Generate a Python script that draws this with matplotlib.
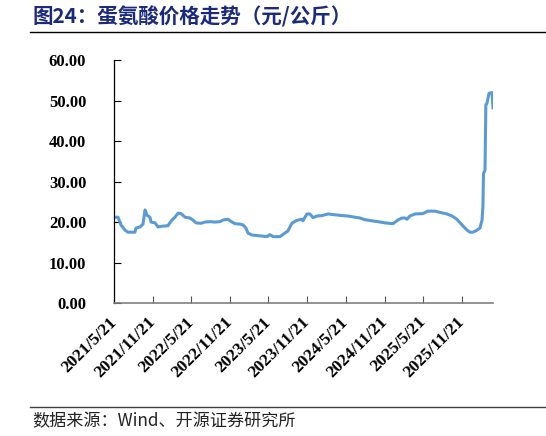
import pandas as pd
import matplotlib.pyplot as plt
from matplotlib.lines import Line2D

# ------------------------------------------------------------------------------------- #
# data (元/公斤)
dates = ['2021-05-21', '2021-06-09', '2021-06-23', '2021-07-12', '2021-07-26', '2021-08-28',
         '2021-09-02', '2021-09-21', '2021-10-05', '2021-10-15', '2021-10-24', '2021-11-07',
         '2021-11-12', '2021-12-01', '2021-12-15', '2022-01-08', '2022-01-31', '2022-02-14',
         '2022-03-05', '2022-03-20', '2022-04-03', '2022-04-22', '2022-05-15', '2022-05-29',
         '2022-06-13', '2022-07-06', '2022-07-25', '2022-08-18', '2022-09-10', '2022-10-04',
         '2022-10-18', '2022-11-11', '2022-11-30', '2022-12-14', '2023-01-07', '2023-01-21',
         '2023-02-04', '2023-02-13', '2023-03-04', '2023-04-11', '2023-05-14', '2023-05-28',
         '2023-06-12', '2023-07-15', '2023-08-07', '2023-08-21', '2023-09-09', '2023-09-24',
         '2023-10-08', '2023-10-27', '2023-10-31', '2023-11-19', '2023-12-03', '2023-12-18',
         '2024-01-06', '2024-01-29', '2024-02-27', '2024-03-31', '2024-05-03', '2024-05-31',
         '2024-07-03', '2024-07-27', '2024-08-19', '2024-09-22', '2024-10-20', '2024-11-22',
         '2024-12-30', '2025-01-22', '2025-02-10', '2025-02-25', '2025-03-06', '2025-03-20',
         '2025-04-13', '2025-05-21', '2025-06-13', '2025-07-16', '2025-08-09', '2025-09-11',
         '2025-10-05', '2025-10-28', '2025-11-21', '2025-12-15', '2025-12-29', '2026-01-12',
         '2026-01-31', '2026-02-14', '2026-02-24', '2026-02-28', '2026-03-03', '2026-03-10',
         '2026-03-14', '2026-03-19', '2026-03-29', '2026-04-12', '2026-04-17']
price = [21.2, 21.2, 19.3, 18.0, 17.5, 17.5,
         18.5, 18.8, 19.5, 23.0, 21.7, 21.2,
         20.0, 19.8, 18.8, 19.0, 19.1, 20.2,
         21.2, 22.2, 22.1, 21.2, 21.0, 20.5,
         19.8, 19.7, 20.0, 20.1, 20.0, 20.1,
         20.5, 20.7, 20.0, 19.6, 19.5, 19.3,
         18.5, 17.3, 16.8, 16.6, 16.4, 16.9,
         16.4, 16.4, 17.3, 17.8, 19.7, 20.2,
         20.5, 20.7, 20.3, 22.0, 22.0, 21.1,
         21.5, 21.6, 22.0, 21.8, 21.6, 21.5,
         21.2, 21.0, 20.6, 20.3, 20.1, 19.8,
         19.6, 20.5, 21.0, 21.0, 20.7, 21.5,
         22.0, 22.1, 22.7, 22.7, 22.4, 22.0,
         21.5, 20.7, 19.3, 18.0, 17.5, 17.5,
         18.0, 18.5, 20.5, 23.7, 32.0, 32.8,
         49.0, 49.3, 51.8, 52.0, 48.2]

tick_dates = ['2021-05-21', '2021-11-21', '2022-05-21', '2022-11-21', '2023-05-21',
              '2023-11-21', '2024-05-21', '2024-11-21', '2025-05-21', '2025-11-21']
y_ticks = [0, 10, 20, 30, 40, 50, 60]

title = '图24：蛋氨酸价格走势（元/公斤）'
source = '数据来源：Wind、开源证券研究所'

# ------------------------------------------------------------------------------------- #
serif = ['Liberation Serif', 'DejaVu Serif']
cjk = ['Noto Sans CJK SC', 'DejaVu Sans']

fig = plt.figure(figsize=(5.46, 4.36), dpi=100)
ax = fig.add_axes([0.2088, 0.305, 0.6942, 0.557])

x = pd.to_datetime(dates)
ax.plot(x, price, color='#5B9BD5', linewidth=2.2, solid_joinstyle='round')

ax.set_xlim(pd.Timestamp(dates[0]), pd.Timestamp(dates[-1]))
ax.set_ylim(0, 60)

ticks = pd.to_datetime(tick_dates)
ax.set_xticks(ticks)
ax.set_xticklabels([f'{d.year}/{d.month}/{d.day}' for d in ticks],
                   rotation=45, ha='right', va='center', rotation_mode='anchor',
                   fontfamily=serif, fontweight='bold', fontsize=12.5)
ax.set_yticks(y_ticks)
ax.set_yticklabels([f'{v:.2f}' for v in y_ticks],
                   fontfamily=serif, fontweight='bold', fontsize=12)

ax.tick_params(axis='x', direction='in', length=5, width=0.8, pad=12, colors='#555555',
               labelcolor='black')
ax.tick_params(axis='y', direction='in', length=5, width=0.8, pad=20, colors='black',
               labelcolor='black')

for s in ['top', 'right']:
    ax.spines[s].set_visible(False)
ax.spines['left'].set_color('black')
ax.spines['bottom'].set_color('#808080')
ax.spines['left'].set_linewidth(0.9)
ax.spines['bottom'].set_linewidth(1.2)

# title, rules and source
fig.text(33 / 546, 1 - 16.5 / 436, title, fontfamily=cjk, fontweight='bold',
         fontsize=14.8, color='#1c2a7d', ha='left', va='center')
fig.add_artist(Line2D([30 / 546, 1], [1 - 32.5 / 436, 1 - 32.5 / 436],
                      transform=fig.transFigure, color='black', linewidth=1))
fig.add_artist(Line2D([30 / 546, 1], [1 - 407 / 436, 1 - 407 / 436],
                      transform=fig.transFigure, color='#404040', linewidth=1))
fig.text(32 / 546, 1 - 421 / 436, source, fontfamily=cjk, fontsize=12.3,
         color='#222222', ha='left', va='center')

plt.savefig('out.png', dpi=100)
plt.close()
